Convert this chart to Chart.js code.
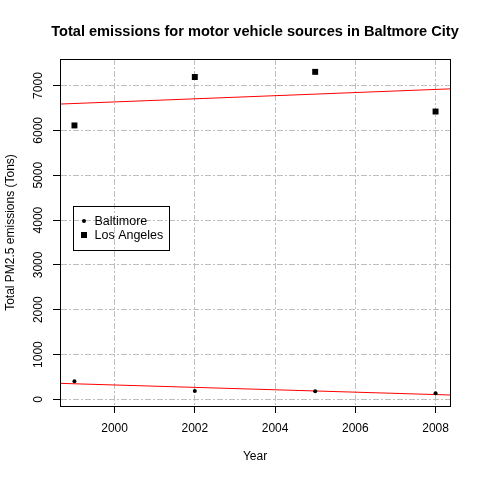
<!DOCTYPE html>
<html>
<head>
<meta charset="utf-8">
<script src="https://cdn.jsdelivr.net/npm/chart.js@4/dist/chart.umd.min.js"></script>
<style>
  html, body { margin: 0; padding: 0; background: #fff; }
  canvas { display: block; }
</style>
</head>
<body>
<canvas id="myChart" width="480" height="480"></canvas>
<script>
// data (tons of PM2.5)
let years = [1999, 2002, 2005, 2008];
let baltimore = [406, 186, 182, 140];
let losAngeles = [6110, 7190, 7305, 6420];
let xTicks = [2000, 2002, 2004, 2006, 2008];
let yTicks = [0, 1000, 2000, 3000, 4000, 5000, 6000, 7000];
let seriesNames = ["Baltimore", "Los Angeles"];

let titleText = "Total emissions for motor vehicle sources in Baltmore City";
let fontFamily = "'Liberation Sans', Arial, sans-serif";

// R style axis range: data range padded by 4 %
function padRange(values) {
    let lo = Math.min(...values), hi = Math.max(...values);
    let d = (hi - lo) * 0.04;
    return [lo - d, hi + d];
}
let xRange = padRange(years);
let yRange = padRange(baltimore.concat(losAngeles));

// least squares fit, like abline(lm(y ~ x))
function fitLine(xs, ys) {
    let mx = xs.reduce((a, b) => a + b, 0) / xs.length;
    let my = ys.reduce((a, b) => a + b, 0) / ys.length;
    let sxy = 0, sxx = 0;
    for (let i = 0; i < xs.length; i++) {
        sxy += (xs[i] - mx) * (ys[i] - my);
        sxx += (xs[i] - mx) * (xs[i] - mx);
    }
    let slope = sxy / sxx;
    return xRange.map(x => ({ x: x, y: my + slope * (x - mx) }));
}

function toPoints(ys) {
    return years.map((x, i) => ({ x: x, y: ys[i] }));
}

// box, title and legend drawn like R base graphics
const rDecor = {
    id: 'rDecor',
    afterDatasetsDraw(chart) {
        const ctx = chart.ctx;
        const a = chart.chartArea;
        ctx.save();
        ctx.strokeStyle = '#000';
        ctx.lineWidth = 1;
        ctx.setLineDash([]);
        ctx.strokeRect(Math.round(a.left) + 0.5, Math.round(a.top) + 0.5,
            Math.round(a.right - a.left), Math.round(a.bottom - a.top));

        ctx.fillStyle = '#000';
        ctx.font = 'bold 14.6px ' + fontFamily;
        ctx.textAlign = 'center';
        ctx.textBaseline = 'middle';
        ctx.fillText(titleText, (a.left + a.right) / 2, 32);

        // legend
        ctx.strokeRect(73.5, 206.5, 96, 44);
        ctx.font = '12.5px ' + fontFamily;
        ctx.textAlign = 'left';
        ctx.beginPath();
        ctx.arc(84, 221, 2, 0, Math.PI * 2);
        ctx.fill();
        ctx.fillRect(81, 232, 6, 6);
        ctx.fillText(seriesNames[0], 94.5, 222);
        ctx.fillText(seriesNames[1], 94.5, 236);
        ctx.restore();
    }
};

let gridOpts = {
    color: '#bebebe',
    lineWidth: 1,
    tickLength: 7,
    tickColor: '#000',
    tickWidth: 1,
    tickBorderDash: []
};
// in v4 the grid line dash lives under border
let borderOpts = { display: true, color: '#000', width: 1, dash: [6, 2, 2, 2] };

var ctx = document.getElementById('myChart').getContext('2d');
var chart = new Chart(ctx, {
    type: 'scatter',
    data: {
        datasets: [
            {
                label: seriesNames[0],
                data: toPoints(baltimore),
                backgroundColor: '#000',
                borderColor: '#000',
                pointStyle: 'circle',
                pointRadius: 2,
                pointBorderWidth: 0
            },
            {
                label: seriesNames[1],
                data: toPoints(losAngeles),
                backgroundColor: '#000',
                borderColor: '#000',
                pointStyle: 'rect',
                pointRadius: 4.2,
                pointBorderWidth: 0
            },
            {
                type: 'line',
                data: fitLine(years, baltimore),
                borderColor: '#ff0000',
                borderWidth: 1,
                pointRadius: 0,
                fill: false
            },
            {
                type: 'line',
                data: fitLine(years, losAngeles),
                borderColor: '#ff0000',
                borderWidth: 1,
                pointRadius: 0,
                fill: false
            }
        ]
    },
    options: {
        responsive: false,
        animation: false,
        devicePixelRatio: 1,
        layout: { padding: { top: 59, right: 30, left: 0, bottom: 0 } },
        plugins: {
            legend: { display: false },
            title: { display: false },
            tooltip: { enabled: false }
        },
        scales: {
            x: {
                type: 'linear',
                min: xRange[0],
                max: xRange[1],
                afterBuildTicks: s => { s.ticks = xTicks.map(v => ({ value: v })); },
                afterFit: s => { s.height = 74; },
                grid: gridOpts,
                border: borderOpts,
                ticks: {
                    color: '#000',
                    font: { family: fontFamily, size: 12 },
                    padding: 8,
                    autoSkip: false,
                    maxRotation: 0,
                    callback: v => String(v)
                },
                title: {
                    display: true,
                    text: 'Year',
                    color: '#000',
                    font: { family: fontFamily, size: 12 },
                    padding: { top: 0, bottom: 16 }
                }
            },
            y: {
                type: 'linear',
                min: yRange[0],
                max: yRange[1],
                afterBuildTicks: s => { s.ticks = yTicks.map(v => ({ value: v })); },
                afterFit: s => { s.width = 60; },
                grid: gridOpts,
                border: borderOpts,
                ticks: {
                    color: '#000',
                    font: { family: fontFamily, size: 12 },
                    padding: 1,
                    autoSkip: false,
                    minRotation: 90,
                    maxRotation: 90,
                    crossAlign: 'center',
                    callback: v => String(v)
                },
                title: {
                    display: true,
                    text: 'Total PM2.5 emissions (Tons)',
                    color: '#000',
                    font: { family: fontFamily, size: 12 },
                    padding: { top: 3, bottom: 0 }
                }
            }
        }
    },
    plugins: [rDecor]
});
</script>
</body>
</html>
